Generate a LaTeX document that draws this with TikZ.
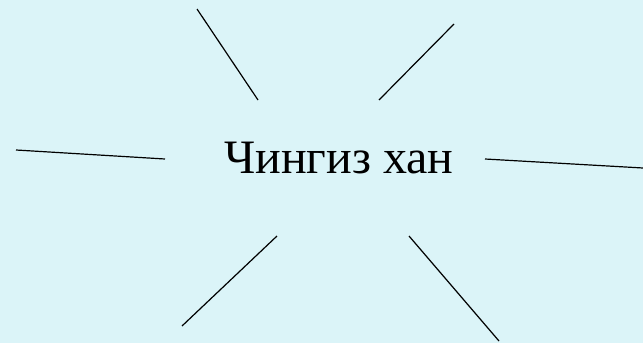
\documentclass[tikz,border=0pt]{standalone}
\usepackage{fontspec}
\setmainfont{Liberation Serif}
\definecolor{bgcyan}{RGB}{219,244,248}
\tikzset{ray/.style={draw=black,line width=1.2pt}}
\begin{document}
\begin{tikzpicture}[x=1pt,y=-1pt]
\fill[bgcyan] (0,0) rectangle (643,343);
\useasboundingbox (0,0) rectangle (643,343);
\node[anchor=base,inner sep=0pt,font=\fontsize{48}{52}\selectfont] (title) at (339,173) {Чингиз хан};
\coordinate (a1) at (197,9);   \coordinate (a2) at (258,100);
\coordinate (b1) at (454,24);  \coordinate (b2) at (379,100);
\coordinate (c1) at (16,150);  \coordinate (c2) at (165,159);
\coordinate (d1) at (485,159); \coordinate (d2) at (643,168);
\coordinate (e1) at (277,236); \coordinate (e2) at (182,326);
\coordinate (f1) at (409,236); \coordinate (f2) at (499,341);
\draw[ray] (a1) -- (a2);
\draw[ray] (b1) -- (b2);
\draw[ray] (c1) -- (c2);
\draw[ray] (d1) -- (d2);
\draw[ray] (e1) -- (e2);
\draw[ray] (f1) -- (f2);
\end{tikzpicture}
\end{document}
